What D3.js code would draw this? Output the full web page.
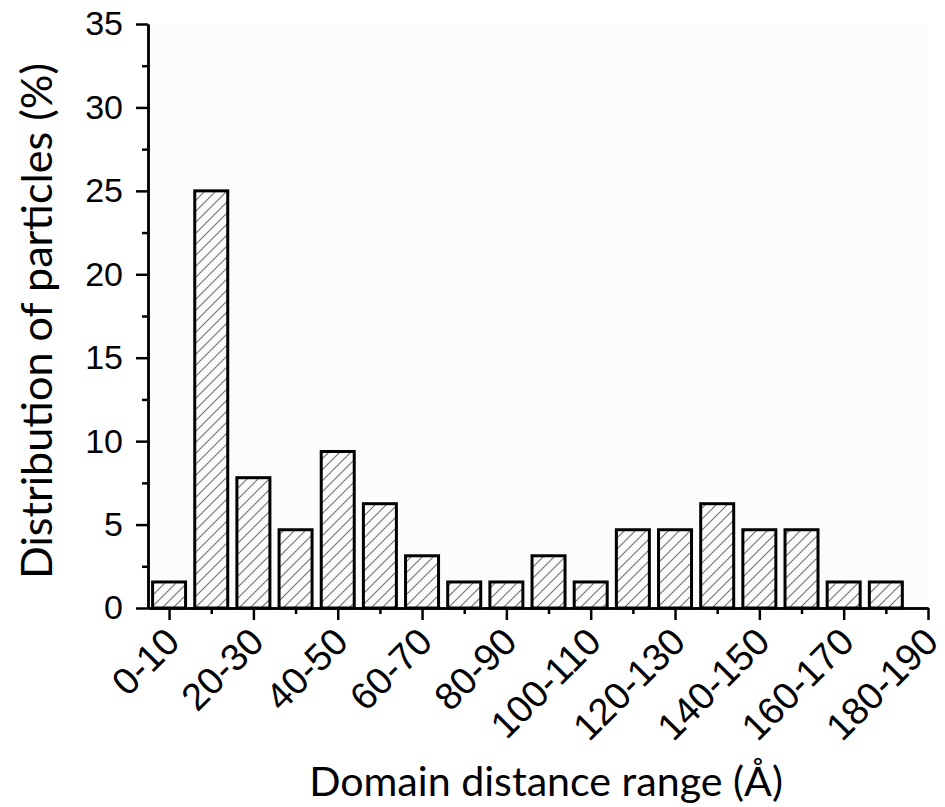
<!DOCTYPE html>
<html>
<head>
<meta charset="utf-8">
<script src="https://cdn.jsdelivr.net/npm/d3@7"></script>
<style>
  html, body { margin: 0; padding: 0; background: #fff; }
  svg { display: block; font-family: Lato, "Open Sans", sans-serif; }
  .axis path, .axis line { stroke: #000; stroke-width: 2.5; }
  .axis text { fill: #000; font-size: 34px; }
  .x-axis text { font-size: 38px; }
  .bar { stroke: #000; stroke-width: 3; fill: url(#hatch); }
  .label { font-size: 40px; fill: #000; }
</style>
</head>
<body>
<div id="chart"></div>
<script>
//data
var categories = ["0-10","10-20","20-30","30-40","40-50","50-60","60-70","70-80","80-90","90-100",
                  "100-110","110-120","120-130","130-140","140-150","150-160","160-170","170-180","180-190"];
var values = [1.56, 25, 7.81, 4.69, 9.38, 6.25, 3.13, 1.56, 1.56, 3.13,
              1.56, 4.69, 4.69, 6.25, 4.69, 4.69, 1.56, 1.56, 0];
var yMajorTicks = [0, 5, 10, 15, 20, 25, 30, 35];
var yMinorTicks = [2.5, 7.5, 12.5, 17.5, 22.5, 27.5, 32.5];

var width = 945, height = 807;

var svg = d3.select("#chart").append("svg")
    .attr("width", width)
    .attr("height", height);

//hatch pattern
var defs = svg.append("defs");
var pat = defs.append("pattern")
    .attr("id", "hatch")
    .attr("patternUnits", "userSpaceOnUse")
    .attr("width", 11)
    .attr("height", 11);
pat.append("rect").attr("width", 11).attr("height", 11).attr("fill", "#fbfbfb");
pat.append("path")
    .attr("d", "M-1,12 L12,-1 M-3,3 L3,-3 M8,14 L14,8")
    .attr("stroke", "#707070")
    .attr("stroke-width", 1.1);

//scales
var x = d3.scaleLinear().domain([-0.5, 18]).range([148, 928]);
var y = d3.scaleLinear().domain([0, 35]).range([608, 24]);
var barW = 33;

//plot area tint
svg.append("rect")
    .attr("x", x(-0.5)).attr("y", y(35))
    .attr("width", x(18) - x(-0.5)).attr("height", y(0) - y(35))
    .attr("fill", "#fcfcfc");

//bars
var data = categories.map(function(c, i) { return {cat: c, i: i, value: values[i]}; })
    .filter(function(d) { return d.value > 0; });

svg.selectAll(".bar")
    .data(data)
  .enter().append("rect")
    .attr("class", "bar")
    .attr("x", function(d) { return x(d.i) - barW / 2; })
    .attr("y", function(d) { return y(d.value); })
    .attr("width", barW)
    .attr("height", function(d) { return y(0) - y(d.value); });

//x-axis minor ticks
svg.append("g")
    .attr("class", "axis")
    .attr("transform", "translate(0," + y(0) + ")")
    .call(d3.axisBottom(x).tickValues(d3.range(1, 19, 2)).tickSize(6).tickSizeOuter(0).tickFormat(""));

//x-axis major ticks
var xAxis = svg.append("g")
    .attr("class", "axis x-axis")
    .attr("transform", "translate(0," + y(0) + ")")
    .call(d3.axisBottom(x).tickValues(d3.range(0, 19, 2)).tickSize(12).tickSizeOuter(0)
      .tickFormat(function(d) { return categories[d]; }));

xAxis.selectAll("text")
    .attr("text-anchor", "end")
    .attr("y", 0)
    .attr("dy", 0)
    .attr("transform", "translate(12,36) rotate(-45)");

//y-axis minor ticks
svg.append("g")
    .attr("class", "axis")
    .attr("transform", "translate(" + x(-0.5) + ",0)")
    .call(d3.axisLeft(y).tickValues(yMinorTicks).tickSize(6).tickSizeOuter(0).tickFormat(""));

//y-axis major ticks
svg.append("g")
    .attr("class", "axis")
    .attr("transform", "translate(" + x(-0.5) + ",0)")
    .call(d3.axisLeft(y).tickValues(yMajorTicks).tickSize(12).tickSizeOuter(0))
  .selectAll("text")
    .attr("x", -25);

//axis titles, sized to the span they take in the figure
function fit(sel, target) {
  var len = sel.node().getComputedTextLength();
  var fs = parseFloat(getComputedStyle(sel.node()).fontSize);
  sel.style("font-size", (fs * target / len) + "px");
}

var xTitle = svg.append("text")
    .attr("class", "label")
    .attr("text-anchor", "middle")
    .attr("x", 546)
    .attr("y", 796)
    .text("Domain distance range (Å)");
fit(xTitle, 474);

var yTitle = svg.append("text")
    .attr("class", "label")
    .attr("text-anchor", "middle")
    .attr("transform", "translate(52,321) rotate(-90)")
    .text("Distribution of particles (%)");
fit(yTitle, 516);
</script>
</body>
</html>
